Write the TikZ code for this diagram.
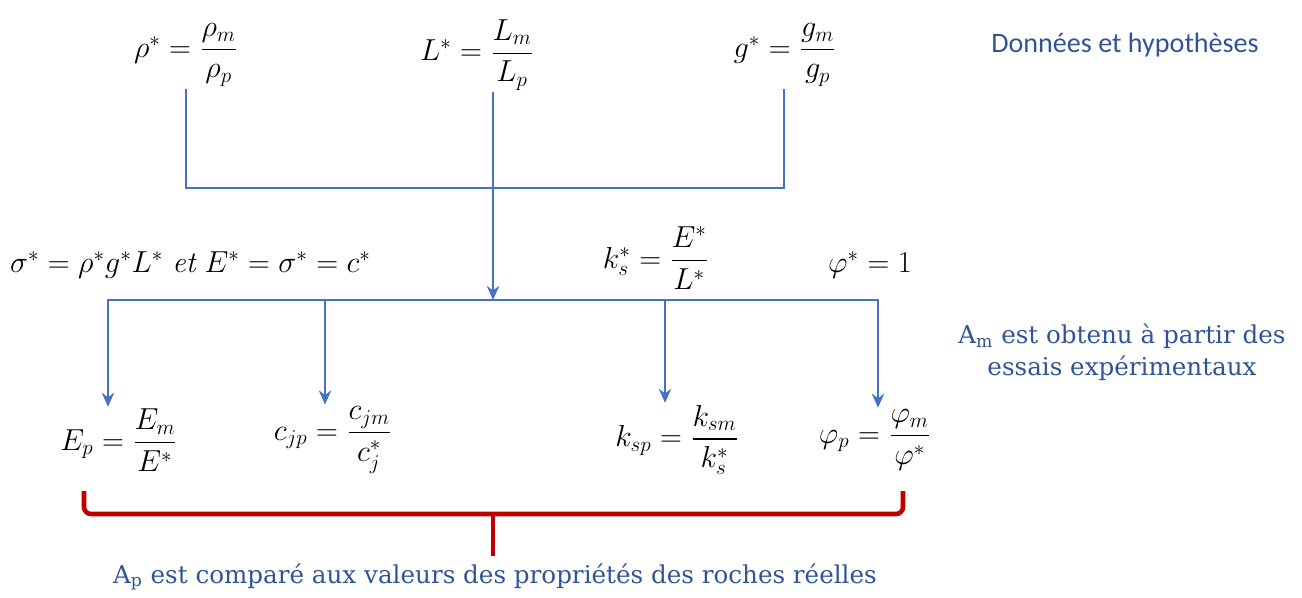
\documentclass[tikz,border=0pt]{standalone}
\usepackage{amsmath}
\usepackage{fontspec}
\usepackage{tikz}
\usetikzlibrary{arrows.meta,positioning}
\newfontfamily\calibfont{Carlito}
\newfontfamily\notefont{DejaVu Serif}
\definecolor{linkblue}{RGB}{68,114,196}
\definecolor{textblue}{RGB}{47,85,151}
\definecolor{bracered}{RGB}{192,0,0}

\begin{document}
\begin{tikzpicture}[x=0.02cm,y=-0.02cm,
  formula/.style={inner sep=1pt,font=\fontsize{17}{20}\selectfont},
  note/.style={text=textblue,font=\notefont\fontsize{14}{18}\selectfont,align=center},
  link/.style={draw=linkblue,line width=1.4pt},
  linkarrow/.style={link,-{Stealth[length=8pt,width=7pt]}},
  bracket/.style={draw=bracered,line width=2.6pt,rounded corners=4pt}]
  \useasboundingbox (0,0) rectangle (1302,598);
  % given ratios
  \node[formula] (rho) at (186,55) {$\rho^*=\dfrac{\rho_m}{\rho_p}$};
  \node[formula] (Lst) at (477,55) {$L^*=\dfrac{L_m}{L_p}$};
  \node[formula] (gst) at (785,55) {$g^*=\dfrac{g_m}{g_p}$};
  \node[text=textblue,font=\calibfont\fontsize{16}{19}\selectfont] (donnees) at (1125,45)
    {Données et hypothèses};
  % derived scales
  \node[formula,anchor=west] (sigma) at (8,265)
    {$\sigma^*=\rho^*g^*L^*\ \mathit{et}\ E^*=\sigma^*=c^*$};
  \node[formula] (ks) at (656,258) {$k_s^*=\dfrac{E^*}{L^*}$};
  \node[formula] (phi) at (870,265) {$\varphi^*=1$};
  \node[note] (Am) at (1122,352) {A\textsubscript{m} est obtenu à partir des\\essais expérimentaux};
  % prototype values
  \node[formula] (Ep) at (119,440) {$E_p=\dfrac{E_m}{E^*}$};
  \node[formula] (cjp) at (333,440) {$c_{jp}=\dfrac{c_{jm}}{c_j^*}$};
  \node[formula] (ksp) at (677,440) {$k_{sp}=\dfrac{k_{sm}}{k_s^*}$};
  \node[formula] (phip) at (875,440) {$\varphi_p=\dfrac{\varphi_m}{\varphi^*}$};
  \node[note] (Ap) at (495,577)
    {A\textsubscript{p} est comparé aux valeurs des propriétés des roches réelles};
  % upper bus
  \coordinate (b1) at (186,188);
  \coordinate (b2) at (493,188);
  \coordinate (b3) at (784,188);
  \draw[link] (rho.south -| b1) -- (b1) -- (b3) -- (gst.south -| b3);
  \draw[link] (Lst.south -| b2) -- (b2);
  % lower bus
  \coordinate (c1) at (108,300);
  \coordinate (c2) at (493,300);
  \coordinate (c3) at (325,300);
  \coordinate (c4) at (665,300);
  \coordinate (c5) at (878,300);
  \draw[linkarrow] (b2) -- (c2);
  \draw[linkarrow] (c2) -| (Ep.north -| c1);
  \draw[linkarrow] (c2) -| (phip.north -| c5);
  \draw[linkarrow] (c3) -- (cjp.north -| c3);
  \draw[linkarrow] (c4) -- (ksp.north -| c4);
  % brace
  \coordinate (r1) at (84,491);
  \coordinate (r2) at (903,491);
  \coordinate (rm) at (493,514);
  \draw[bracket] (r1) |- (rm) -| (r2);
  \draw[bracket,line width=2.2pt] (rm) -- ([yshift=1pt]Ap.north -| rm);
\end{tikzpicture}
\end{document}
